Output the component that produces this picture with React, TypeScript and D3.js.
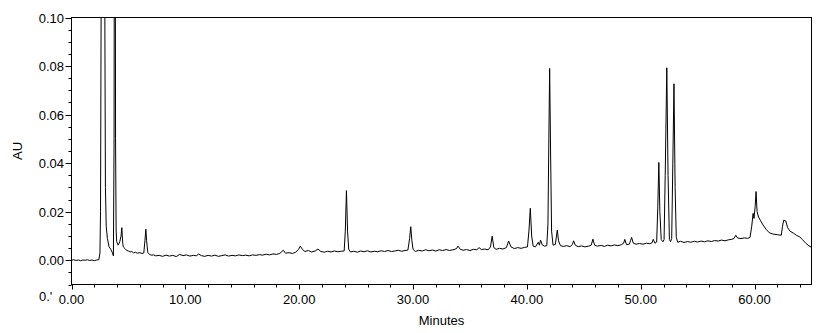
import React, { useEffect, useRef } from 'react';
import * as d3 from 'd3';

// [minutes, AU]
const traceEarly: [number, number][] = [
  [0, 0.0], [0.2, 0.0002], [0.4, -0.0001], [0.6, 0.0001], [0.8, -0.0002], [1.0, 0.0001],
  [1.2, 0.0], [1.4, 0.0002], [1.6, -0.0001], [1.8, 0.0001], [2.0, -0.0002], [2.2, 0.0001],
  [2.4, 0.0002], [2.5, 0.003], [2.55, 0.02], [2.6, 0.1], [2.75, 0.35], [2.93, 0.1],
  [2.98, 0.03], [3.05, 0.014], [3.15, 0.009], [3.3, 0.0055], [3.45, 0.0045], [3.6, 0.003],
  [3.68, 0.0018], [3.74, 0.05], [3.8, 0.3], [3.87, 0.05], [3.92, 0.012], [3.97, 0.0076],
  [4.1, 0.0062], [4.24, 0.0076], [4.35, 0.01], [4.42, 0.0134], [4.5, 0.007], [4.55, 0.0055],
  [4.7, 0.0048], [4.83, 0.0041], [5.0, 0.0038], [5.15, 0.0034], [5.3, 0.0036], [5.45, 0.003],
  [5.6, 0.0033], [5.8, 0.0029], [6.0, 0.0031], [6.2, 0.0028], [6.35, 0.003], [6.45, 0.008],
  [6.53, 0.0128], [6.6, 0.008], [6.7, 0.0032], [6.85, 0.0024], [7.0, 0.0021], [7.2, 0.0022],
  [7.4, 0.0018],
];

const traceMid: [number, number][] = [
  [7.7, 0.002], [8.0, 0.0016], [8.3, 0.0021], [8.6, 0.0017], [8.9, 0.002], [9.2, 0.0015],
  [9.5, 0.0024], [9.8, 0.0019], [10.1, 0.0022], [10.4, 0.0017], [10.7, 0.002], [11.0, 0.0018],
  [11.15, 0.0026], [11.4, 0.0019], [11.7, 0.0016], [12.0, 0.002], [12.3, 0.0017], [12.6, 0.0021],
  [12.9, 0.0016], [13.2, 0.0019], [13.5, 0.0022], [13.8, 0.0017], [14.1, 0.002], [14.4, 0.0018],
  [14.7, 0.0022], [15.0, 0.0019], [15.3, 0.0021], [15.6, 0.0018], [15.9, 0.0022], [16.2, 0.002],
  [16.5, 0.0023], [16.8, 0.0021], [17.1, 0.0025], [17.4, 0.0022], [17.7, 0.0026], [18.0, 0.0024],
  [18.3, 0.0028], [18.6, 0.0041], [18.8, 0.0029], [19.1, 0.0031], [19.4, 0.0028], [19.7, 0.0033],
  [19.95, 0.0045], [20.1, 0.0058], [20.3, 0.0044], [20.5, 0.0036], [20.8, 0.004], [21.1, 0.0034],
  [21.4, 0.0038], [21.65, 0.0046], [21.9, 0.0036], [22.2, 0.0033], [22.5, 0.0037], [22.8, 0.0034],
  [23.1, 0.0038], [23.4, 0.0035], [23.7, 0.0037], [23.95, 0.0038], [24.05, 0.012], [24.15, 0.0287],
  [24.25, 0.012], [24.35, 0.0045], [24.5, 0.0034], [24.8, 0.0037], [25.1, 0.0033], [25.4, 0.0038],
  [25.7, 0.0035], [26.0, 0.0039], [26.3, 0.0034], [26.6, 0.0037], [26.9, 0.0035], [27.2, 0.0039],
  [27.5, 0.0036], [27.8, 0.004], [28.1, 0.0036], [28.4, 0.0038], [28.7, 0.0041], [29.0, 0.0037],
  [29.3, 0.004], [29.55, 0.0042], [29.7, 0.009], [29.8, 0.0138], [29.9, 0.008], [30.0, 0.0045],
  [30.2, 0.0036], [30.5, 0.0041], [30.8, 0.0038], [31.1, 0.0043], [31.4, 0.0039], [31.7, 0.0042],
  [32.0, 0.0038], [32.3, 0.0043], [32.6, 0.004], [32.9, 0.0044], [33.2, 0.004], [33.5, 0.0043],
  [33.8, 0.0047], [33.95, 0.0058], [34.15, 0.0045], [34.4, 0.0041], [34.7, 0.0044], [35.0, 0.004],
  [35.3, 0.0045], [35.6, 0.0043], [35.8, 0.0052], [36.0, 0.0044], [36.3, 0.0046], [36.6, 0.0043],
];

const traceLate: [number, number][] = [
  [36.8, 0.0055], [36.95, 0.0099], [37.1, 0.0052], [37.3, 0.0045], [37.6, 0.0049], [37.9, 0.0046],
  [38.2, 0.0052], [38.4, 0.0079], [38.6, 0.0055], [38.9, 0.0048], [39.2, 0.0052], [39.5, 0.0049],
  [39.8, 0.0053], [40.05, 0.0055], [40.18, 0.012], [40.3, 0.0214], [40.42, 0.01], [40.55, 0.0058],
  [40.75, 0.0055], [41.0, 0.0074], [41.1, 0.0062], [41.2, 0.0083], [41.35, 0.0063], [41.55, 0.0058],
  [41.75, 0.006], [41.85, 0.015], [41.93, 0.05], [42.0, 0.079], [42.08, 0.045], [42.17, 0.012],
  [42.3, 0.0062], [42.5, 0.0065], [42.6, 0.01], [42.67, 0.0124], [42.78, 0.008], [42.95, 0.006],
  [43.2, 0.0057], [43.5, 0.006], [43.8, 0.0056], [44.0, 0.0065], [44.1, 0.008], [44.25, 0.0062],
  [44.5, 0.0056], [44.8, 0.0059], [45.1, 0.0055], [45.4, 0.0058], [45.65, 0.0062], [45.8, 0.0087],
  [45.95, 0.0062], [46.2, 0.0058], [46.5, 0.0061], [46.8, 0.0057], [47.1, 0.0062], [47.4, 0.0059],
  [47.7, 0.0063], [48.0, 0.006], [48.3, 0.0064], [48.5, 0.007], [48.6, 0.0086], [48.75, 0.0064],
  [49.0, 0.0066], [49.1, 0.008], [49.2, 0.0094], [49.35, 0.007], [49.6, 0.0066], [49.9, 0.0069],
  [50.2, 0.0066], [50.5, 0.007], [50.8, 0.0068], [51.0, 0.0072], [51.1, 0.0086], [51.25, 0.007],
  [51.4, 0.0075], [51.5, 0.022], [51.59, 0.0403], [51.68, 0.02], [51.8, 0.0085], [51.95, 0.0076],
  [52.05, 0.0085], [52.15, 0.035], [52.29, 0.0793], [52.4, 0.035], [52.52, 0.0085], [52.62, 0.0076],
  [52.72, 0.009], [52.82, 0.04], [52.92, 0.0727], [53.02, 0.03], [53.12, 0.0095], [53.25, 0.0074],
  [53.5, 0.0078], [53.8, 0.0073], [54.1, 0.0077], [54.4, 0.0074], [54.7, 0.0078], [55.0, 0.0075],
  [55.3, 0.0079], [55.6, 0.0076], [55.9, 0.008], [56.2, 0.0077], [56.5, 0.0081], [56.8, 0.0079],
  [57.1, 0.0083], [57.4, 0.008], [57.7, 0.0084], [58.0, 0.0086], [58.2, 0.009], [58.35, 0.0103],
  [58.5, 0.0092], [58.8, 0.0089], [59.1, 0.0092], [59.4, 0.009], [59.6, 0.0094], [59.75, 0.014],
  [59.87, 0.0193], [59.95, 0.0172], [60.05, 0.022], [60.13, 0.0283], [60.22, 0.02], [60.35, 0.0178],
  [60.5, 0.0165], [60.75, 0.0145], [61.0, 0.0128], [61.3, 0.0113], [61.6, 0.0108], [62.0, 0.0105],
  [62.35, 0.0103], [62.45, 0.014], [62.56, 0.0165], [62.74, 0.0162], [62.9, 0.0135], [63.1, 0.012],
  [63.4, 0.0112], [63.7, 0.0102], [63.97, 0.0096], [64.2, 0.0085], [64.5, 0.007], [64.7, 0.0062],
  [65.0, 0.0053],
];

const xMajorTicks = [0, 10, 20, 30, 40, 50, 60];
const xTickLabels = ['0.00', '10.00', '20.00', '30.00', '40.00', '50.00', '60.00'];
const yMajorTicks = [0, 0.02, 0.04, 0.06, 0.08, 0.1];
const yTickLabels = ['0.00', '0.02', '0.04', '0.06', '0.08', '0.10'];
const yCutLabel = "0.'"; // the -0.01 label, cut off by the x axis labels

const FONT = '"Liberation Sans", Arial, sans-serif';

const App = () => {
  const svgRef = useRef<SVGSVGElement>(null);

  useEffect(() => {
    const svg = d3.select(svgRef.current);
    const width = 824;
    const height = 333;
    const left = 71.5;
    const right = 811.5;
    const top = 17.5;
    const bottom = 284.5;

    const x = d3.scaleLinear().domain([0, 65]).range([left, right]);
    const y = d3.scaleLinear().domain([-0.01, 0.1]).range([bottom, top]);

    svg.attr('width', width).attr('height', height);
    svg.append('rect').attr('width', width).attr('height', height).attr('fill', '#fff');

    svg.append('clipPath').attr('id', 'plotClip')
      .append('rect')
      .attr('x', left).attr('y', top)
      .attr('width', right - left).attr('height', bottom - top);

    // frame
    svg.append('rect')
      .attr('x', left).attr('y', top)
      .attr('width', right - left).attr('height', bottom - top)
      .attr('fill', 'none').attr('stroke', '#000');

    // y axis
    const yMinor = d3.range(-0.01, 0.1001, 0.005);
    svg.append('g').selectAll('line').data(yMinor).enter().append('line')
      .attr('x1', left - 3).attr('x2', left)
      .attr('y1', (d) => Math.round(y(d)) + 0.5).attr('y2', (d) => Math.round(y(d)) + 0.5)
      .attr('stroke', '#000');
    svg.append('g').selectAll('line').data(yMajorTicks).enter().append('line')
      .attr('x1', left - 6).attr('x2', left)
      .attr('y1', (d) => Math.round(y(d)) + 0.5).attr('y2', (d) => Math.round(y(d)) + 0.5)
      .attr('stroke', '#000');
    svg.append('g').selectAll('text').data(yMajorTicks).enter().append('text')
      .attr('x', 64).attr('y', (d) => y(d) + 5)
      .attr('text-anchor', 'end')
      .attr('font-family', FONT).attr('font-size', 13)
      .text((d, i) => yTickLabels[i]);

    svg.append('text')
      .attr('x', 39).attr('y', 301)
      .attr('font-family', FONT).attr('font-size', 13)
      .text(yCutLabel);

    // x axis
    const xMinor = d3.range(0, 65, 2);
    svg.append('g').selectAll('line').data(xMinor).enter().append('line')
      .attr('x1', (d) => Math.round(x(d)) + 0.5).attr('x2', (d) => Math.round(x(d)) + 0.5)
      .attr('y1', bottom).attr('y2', bottom + 3)
      .attr('stroke', '#000');
    svg.append('g').selectAll('line').data(xMajorTicks).enter().append('line')
      .attr('x1', (d) => Math.round(x(d)) + 0.5).attr('x2', (d) => Math.round(x(d)) + 0.5)
      .attr('y1', bottom).attr('y2', bottom + 5)
      .attr('stroke', '#000');
    svg.append('g').selectAll('text').data(xMajorTicks).enter().append('text')
      .attr('x', (d) => x(d)).attr('y', bottom + 19)
      .attr('text-anchor', 'middle')
      .attr('font-family', FONT).attr('font-size', 13)
      .text((d, i) => xTickLabels[i]);

    svg.append('text')
      .attr('x', (left + right) / 2).attr('y', 325)
      .attr('text-anchor', 'middle')
      .attr('font-family', FONT).attr('font-size', 13)
      .text('Minutes');

    svg.append('text')
      .attr('transform', `translate(22,${(top + bottom) / 2}) rotate(-90)`)
      .attr('text-anchor', 'middle')
      .attr('font-family', FONT).attr('font-size', 13)
      .text('AU');

    // chromatogram trace
    const trace = [...traceEarly, ...traceMid, ...traceLate];
    const line = d3.line<[number, number]>()
      .x((d) => x(d[0]))
      .y((d) => y(d[1]));
    svg.append('path')
      .datum(trace)
      .attr('clip-path', 'url(#plotClip)')
      .attr('d', line)
      .attr('fill', 'none')
      .attr('stroke', '#000')
      .attr('stroke-width', 1);

    return () => {
      svg.selectAll('*').remove();
    };
  }, []);

  return (
    <svg
      ref={svgRef}
      style={{ position: 'absolute', left: 0, top: 0, display: 'block' }}
    />
  );
};

export default App;
